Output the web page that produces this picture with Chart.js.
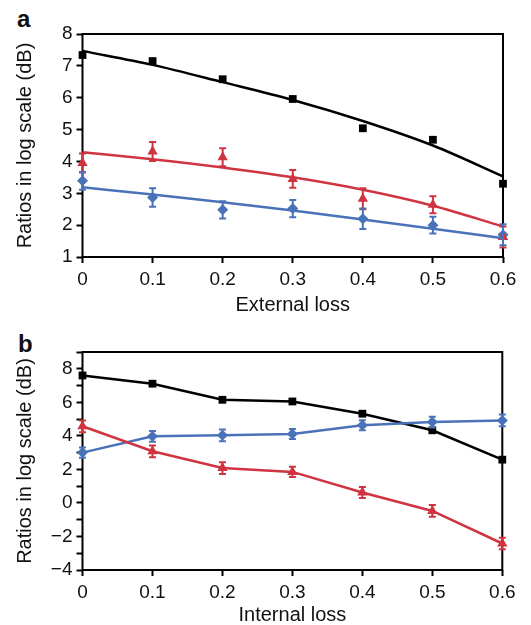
<!DOCTYPE html>
<html>
<head>
<meta charset="utf-8">
<script src="https://cdn.jsdelivr.net/npm/chart.js@4/dist/chart.umd.min.js"></script>
<style>
  body { margin: 0; background: #fff; width: 531px; height: 625px; position: relative; overflow: hidden; }
  .pannello { position: absolute; left: 0; }
  .lettera { position: absolute; font: bold 24px "Liberation Sans", Arial, sans-serif; color: #111; }
</style>
</head>
<body>
<div class="lettera" style="left:17px; top:5px;">a</div>
<div class="lettera" style="left:18px; top:330px;">b</div>
<div class="pannello" style="top:0;"><canvas id="graficoA" width="531" height="320"></canvas></div>
<div class="pannello" style="top:320px;"><canvas id="graficoB" width="531" height="305"></canvas></div>

<script>
// perdite (asse x comune)
const perdite = [0, 0.1, 0.2, 0.3, 0.4, 0.5, 0.6];

// pannello a - perdita esterna
const aNeroPunti = [7.34, 7.15, 6.58, 5.96, 5.04, 4.68, 3.30];
const aNeroFit = [7.47, 7.03, 6.49, 5.93, 5.27, 4.50, 3.53];
const aRossoPunti = [3.95, 4.31, 4.13, 3.45, 2.83, 2.64, 1.63];
const aRossoErr = [0.30, 0.30, 0.28, 0.28, 0.33, 0.27, 0.33];
const aRossoFit = [4.29, 4.07, 3.81, 3.50, 3.11, 2.61, 1.96];
const aBluPunti = [3.39, 2.87, 2.48, 2.52, 2.20, 2.00, 1.70];
const aBluErr = [0.28, 0.29, 0.27, 0.27, 0.32, 0.26, 0.33];
const aBluFit = [3.19, 2.96, 2.72, 2.46, 2.18, 1.89, 1.59];

// pannello b - perdita interna
const bNero = [7.60, 7.11, 6.15, 6.05, 5.32, 4.33, 2.58];
const bBlu = [3.00, 3.97, 4.03, 4.11, 4.63, 4.82, 4.92];
const bBluErr = [0.30, 0.32, 0.35, 0.30, 0.30, 0.32, 0.35];
const bRosso = [4.57, 3.08, 2.08, 1.85, 0.62, -0.48, -2.42];
const bRossoErr = [0.35, 0.35, 0.35, 0.30, 0.33, 0.35, 0.35];

const NERO = '#000000';
const ROSSO = '#cf3440';
const BLU = '#4a72b8';
const FONT = '"Liberation Sans", Arial, sans-serif';

function punti(valori) {
    return valori.map((v, i) => ({ x: perdite[i], y: v }));
}

// cornice del grafico + barre di errore
const cornice = {
    id: 'cornice',
    beforeDatasetsDraw(chart) {
        const { ctx, chartArea: a } = chart;
        ctx.save();
        ctx.strokeStyle = '#000';
        ctx.lineWidth = 2;
        ctx.strokeRect(a.left, a.top, a.right - a.left, a.bottom - a.top);
        ctx.restore();
    },
    afterDatasetsDraw(chart) {
        const { ctx } = chart;
        const sx = chart.scales.x, sy = chart.scales.y;
        chart.data.datasets.forEach(ds => {
            if (!ds.errori) return;
            ctx.save();
            ctx.strokeStyle = ds.borderColor;
            ctx.lineWidth = 2;
            ds.data.forEach((p, i) => {
                const x = sx.getPixelForValue(p.x);
                const y1 = sy.getPixelForValue(p.y + ds.errori[i]);
                const y2 = sy.getPixelForValue(p.y - ds.errori[i]);
                ctx.beginPath();
                ctx.moveTo(x, y1); ctx.lineTo(x, y2);
                ctx.moveTo(x - 3.5, y1); ctx.lineTo(x + 3.5, y1);
                ctx.moveTo(x - 3.5, y2); ctx.lineTo(x + 3.5, y2);
                ctx.stroke();
            });
            ctx.restore();
        });
    }
};

function fit(valori, colore, spessore) {
    return {
        data: punti(valori), borderColor: colore, borderWidth: spessore,
        pointRadius: 0, cubicInterpolationMode: 'monotone', tension: 0.4, clip: false
    };
}

function marcatori(valori, colore, stile, raggio, errori, linea) {
    return {
        data: punti(valori), borderColor: colore, backgroundColor: colore,
        borderWidth: linea ? 2.5 : 0, showLine: !!linea,
        pointStyle: stile, pointRadius: raggio, pointBorderWidth: 0,
        pointBackgroundColor: colore, errori: errori, clip: false
    };
}

function opzioni(yMin, yMax, titoloX, altX, padTop, padRight, padTitoloX, nascondiDispari) {
    return {
        responsive: false,
        animation: false,
        layout: { padding: { top: padTop, right: padRight, bottom: 0, left: 0 } },
        plugins: { legend: { display: false }, tooltip: { enabled: false } },
        scales: {
            x: {
                type: 'linear', min: 0, max: 0.6,
                border: { display: false },
                grid: { drawOnChartArea: false, tickLength: 6, tickWidth: 2, tickColor: '#000' },
                ticks: {
                    stepSize: 0.1, autoSkip: false, maxRotation: 0, padding: 5,
                    color: '#111', font: { family: FONT, size: 19 },
                    callback: v => (Math.abs(v) < 1e-9 ? '0' : v.toFixed(1))
                },
                title: {
                    display: true, text: titoloX, color: '#111',
                    font: { family: FONT, size: 20, lineHeight: 1 },
                    padding: { top: 0, bottom: padTitoloX }
                },
                afterFit(s) { s.height = altX; }
            },
            y: {
                min: yMin, max: yMax,
                border: { display: false },
                grid: { drawOnChartArea: false, tickLength: 6, tickWidth: 2, tickColor: '#000' },
                ticks: {
                    stepSize: 1, autoSkip: false, padding: 4,
                    color: '#111', font: { family: FONT, size: 19 },
                    callback: v => {
                        if (nascondiDispari && Math.abs(v % 2) === 1) return '';
                        return v < 0 ? '\u2212' + Math.abs(v) : String(v);
                    }
                },
                title: {
                    display: true, text: 'Ratios in log scale (dB)', color: '#111',
                    font: { family: FONT, size: 20, lineHeight: 1 },
                    padding: { top: 15, bottom: 0 }
                },
                afterFit(s) { s.width = 82.5; }
            }
        }
    };
}

new Chart(document.getElementById('graficoA'), {
    type: 'line',
    data: {
        datasets: [
            fit(aNeroFit, NERO, 2.5),
            fit(aRossoFit, ROSSO, 2.5),
            fit(aBluFit, BLU, 2.5),
            marcatori(aNeroPunti, NERO, 'rect', 5.5, null, false),
            marcatori(aRossoPunti, ROSSO, 'triangle', 6, aRossoErr, false),
            marcatori(aBluPunti, BLU, 'rectRot', 5.5, aBluErr, false)
        ]
    },
    options: opzioni(1, 8, 'External loss', 63, 34, 28, 5, false),
    plugins: [cornice]
});

new Chart(document.getElementById('graficoB'), {
    type: 'line',
    data: {
        datasets: [
            marcatori(bRosso, ROSSO, 'triangle', 6, bRossoErr, true),
            marcatori(bBlu, BLU, 'rectRot', 5.5, bBluErr, true),
            marcatori(bNero, NERO, 'rect', 5.5, null, true)
        ]
    },
    options: opzioni(-4, 9, 'Internal loss', 55, 32, 28.7, 0, true),
    plugins: [cornice]
});
</script>
</body>
</html>
